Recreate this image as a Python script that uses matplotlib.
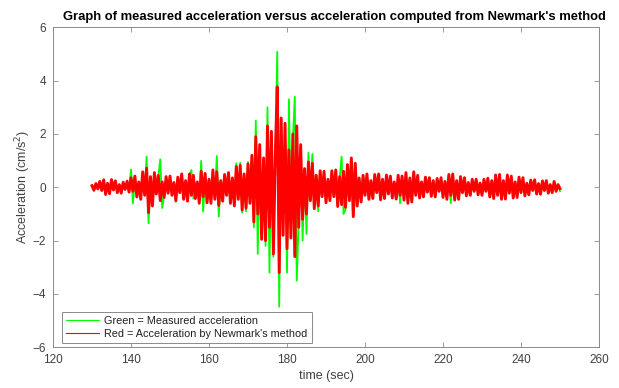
import numpy as np
import matplotlib
matplotlib.use("Agg")
import matplotlib.pyplot as plt

# time base: 130 s to 250 s, one reading every 0.5 s
t_start, t_end, dt = 130.0, 250.0, 0.5

# measured acceleration (green), cm/s^2, rows of 10 s
measured = [
    0.08, -0.15, 0.1, -0.05, 0.18, -0.1, 0.22, -0.2, 0.12, -0.2, 0.25, -0.08, 0.2, -0.16, 0.08, -0.18, 0.15, -0.06, 0.18, -0.15,
    0.67, -0.6, 0.35, -0.3, 0.15, -0.4, 0.5, -0.25, 1.15, -1.35, 0.35, -0.6, 0.45, -0.2, 0.4, 1.05, -0.78, -0.3, 0.35, -0.2,
    0.38, -0.25, 0.15, -0.55, 0.3, -0.18, 0.42, -0.4, 0.2, -0.45, 0.45, 0.65, -0.42, -0.35, 0.18, -0.5, 0.99, -0.91, 0.45, -0.5,
    0.25, -0.5, 0.55, -0.4, 1.17, -1.1, 0.2, -0.45, 0.4, -0.25, 0.48, -0.5, 0.3, -0.6, 0.9, -0.4, 0.92, -0.95, 0.45, -0.9,
    0.95, -0.5, 1.0, -1.5, 2.5, -2.5, 1.4, -1.9, 1.0, -2.2, 3.0, -3.2, 1.8, -2.6, 1.0, 5.08, -4.48, 2.4, -1.5, 2.0,
    -3.2, 3.3, -1.6, 1.8, 3.4, -3.5, -1.3, 1.5, -2.0, 0.6, -1.75, 1.3, -0.45, 1.25, -0.7, 0.4, -0.9, 0.55, -0.3, 0.5,
    -0.5, 0.25, -0.45, 0.55, -0.3, 0.6, -0.65, 0.35, 1.15, -1.0, -0.85, 0.75, -0.45, 1.05, -1.0, 0.8, -0.6, 0.3, -0.5, 0.4,
    -0.25, 0.45, -0.4, 0.2, -0.38, 0.42, -0.18, 0.45, -0.42, 0.25, -0.38, 0.42, -0.22, 0.38, -0.35, 0.18, -0.4, 0.4, -0.6, 0.38,
    -0.42, 0.5, -0.55, 0.3, -0.5, 0.52, -0.25, 0.4, -0.35, 0.18, -0.32, 0.34, -0.15, 0.32, -0.3, 0.22, -0.32, 0.3, -0.12, 0.32,
    -0.34, 0.2, -0.4, 0.42, -0.6, 0.45, -0.42, 0.22, -0.4, 0.36, -0.18, 0.32, -0.28, 0.15, -0.27, 0.27, -0.13, 0.27, -0.25, 0.14,
    -0.27, 0.27, -0.13, 0.3, -0.32, 0.22, -0.38, 0.42, -0.27, 0.44, -0.4, 0.22, -0.4, 0.42, -0.2, 0.38, -0.36, 0.18, -0.34, 0.34,
    -0.18, 0.32, -0.28, 0.13, -0.25, 0.24, -0.1, 0.25, -0.22, 0.12, -0.23, 0.21, -0.1, 0.22, -0.2, 0.09, -0.18, 0.2, -0.13, 0.08,
    -0.15,
]

# acceleration from Newmark's method (red), cm/s^2
newmark = [
    0.06, -0.1, 0.14, -0.06, 0.22, -0.12, 0.28, -0.27, 0.15, -0.24, 0.29, -0.1, 0.24, -0.2, 0.1, -0.22, 0.19, -0.08, 0.23, -0.18,
    0.36, -0.15, 0.42, -0.36, 0.2, -0.45, 0.58, -0.3, 0.72, -0.95, 0.4, -0.7, 0.55, -0.25, 0.45, -0.5, 0.2, -0.38, 0.4, -0.22,
    0.42, -0.3, 0.18, -0.5, 0.38, -0.2, 0.5, -0.45, 0.25, -0.52, 0.5, -0.3, 0.45, -0.42, 0.2, -0.6, 0.6, -0.35, 0.52, -0.58,
    0.3, -0.6, 0.65, -0.45, 0.58, -0.68, 0.25, -0.52, 0.48, -0.3, 0.55, -0.6, 0.35, -0.7, 0.78, -0.45, 0.82, -0.85, 0.5, -0.78,
    0.88, -0.6, 1.2, -1.3, 1.9, -1.0, 1.6, -1.95, 1.1, -2.0, 2.3, -1.5, 2.1, -2.5, 1.2, 3.77, -3.2, 2.6, -1.8, 2.4,
    -2.3, 1.4, -1.9, 2.0, -2.6, 2.3, -1.5, 1.6, -1.2, 0.7, -1.0, 0.95, -0.5, 0.9, -0.8, 0.45, -0.7, 0.62, -0.35, 0.6,
    -0.58, 0.3, -0.5, 0.62, -0.35, 0.65, -0.72, 0.4, -0.65, 0.6, -0.75, 0.85, -0.5, 1.1, -1.1, 0.9, -0.7, 0.35, -0.55, 0.45,
    -0.3, 0.5, -0.45, 0.25, -0.42, 0.48, -0.2, 0.5, -0.47, 0.3, -0.42, 0.46, -0.25, 0.42, -0.4, 0.2, -0.44, 0.45, -0.3, 0.42,
    -0.48, 0.55, -0.6, 0.35, -0.55, 0.58, -0.3, 0.45, -0.4, 0.2, -0.36, 0.38, -0.18, 0.36, -0.34, 0.25, -0.36, 0.33, -0.15, 0.36,
    -0.38, 0.22, -0.45, 0.48, -0.3, 0.5, -0.48, 0.25, -0.45, 0.4, -0.2, 0.36, -0.32, 0.18, -0.3, 0.3, -0.15, 0.3, -0.28, 0.16,
    -0.3, 0.3, -0.15, 0.34, -0.36, 0.25, -0.42, 0.46, -0.3, 0.48, -0.45, 0.25, -0.44, 0.46, -0.22, 0.42, -0.4, 0.2, -0.38, 0.38,
    -0.2, 0.36, -0.32, 0.15, -0.28, 0.27, -0.12, 0.28, -0.25, 0.14, -0.26, 0.24, -0.12, 0.25, -0.22, 0.1, -0.2, 0.22, -0.15, 0.1,
    -0.05,
]

x_ticks = [120, 140, 160, 180, 200, 220, 240, 260]
y_ticks = [-6, -4, -2, 0, 2, 4, 6]

t = t_start + dt * np.arange(len(measured))

plt.rcParams.update({"font.family": ["Liberation Sans", "DejaVu Sans"], "font.size": 8.5})
axis_grey = "#8a8a8a"
text_grey = "#404040"

fig = plt.figure(figsize=(6.19, 3.88), dpi=100)
ax = fig.add_axes([53 / 619, 1 - 347.3 / 388, 546 / 619, 320 / 388])

# thick strokes so the dense trace reads as a filled band, as in the original
ax.plot(t, measured, color=(0, 1, 0), lw=1.3, label="Green = Measured acceleration")
ax.plot(t, newmark, color=(1, 0, 0), lw=2.1, label="Red = Acceleration by Newmark's method")

ax.set_xlim(120, 260)
ax.set_ylim(-6, 6)
ax.set_xticks(x_ticks)
ax.set_yticks(y_ticks)
ax.tick_params(direction="in", length=3.5, width=0.6, color=axis_grey,
               labelcolor=text_grey, top=True, right=True, labelsize=8.5, pad=5)
for s in ax.spines.values():
    s.set_color(axis_grey)
    s.set_linewidth(0.7)

ax.set_xlabel("time (sec)", color=text_grey, fontsize=9, labelpad=3)
ax.set_ylabel("Acceleration (cm/s$^2$)", color=text_grey, fontsize=9, labelpad=0)
ax.set_title("Graph of measured acceleration versus acceleration computed from Newmark's method",
             fontsize=9.4, fontweight="bold", pad=5, x=0.516)

leg = ax.legend(loc="lower left", bbox_to_anchor=(0.016, 0.012), borderaxespad=0,
                fontsize=7.8, fancybox=False, framealpha=1, handlelength=3.0,
                handletextpad=0.5, borderpad=0.4, labelspacing=0.3)
leg.get_frame().set_edgecolor(axis_grey)
leg.get_frame().set_linewidth(0.7)
for line in leg.get_lines():
    line.set_linewidth(0.8)
for txt in leg.get_texts():
    txt.set_color("#202020")

fig.savefig("out.png", dpi=100)
